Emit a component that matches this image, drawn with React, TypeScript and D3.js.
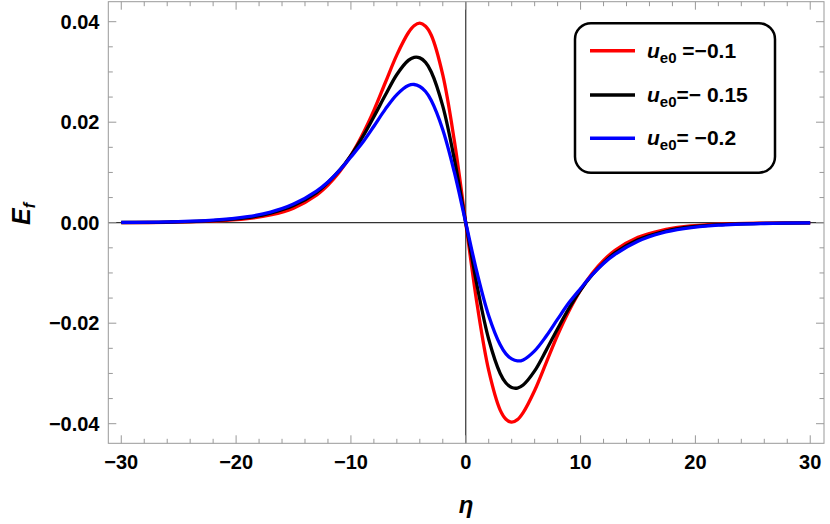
import React from "react";
import * as d3 from "d3";

const eta = [-30,-26,-22,-19,-17,-15,-13,-12,-11,-10,-9,-8,-7,-6,-5,-4.5,-4,-3.5,-3,-2,-1,0,1,2,3,3.5,4,4.5,5,6,7,8,9,10,11,12,13,15,17,19,22,26,30];

const redVals = [0.00002,0.00008,0.0003,0.0008,0.00155,0.0029,0.0055,0.0075,0.0101,0.0134,0.0175,0.02235,0.0279,0.0334,0.0378,0.0392,0.0397,0.0391,0.0373,0.0294,0.0164,0,
  -0.0164,-0.0294,-0.0373,-0.0391,-0.0397,-0.0392,-0.0378,-0.0334,-0.0279,-0.02235,-0.0175,-0.0134,-0.0101,-0.0075,-0.0055,-0.0029,-0.00155,-0.0008,-0.0003,-0.00008,-0.00002];
const blackVals = [0.00004,0.00012,0.0004,0.001,0.0019,0.0034,0.006,0.008,0.0104,0.0134,0.017,0.0211,0.0254,0.0295,0.0323,0.0329,0.0328,0.0319,0.03,0.0232,0.0127,0,
  -0.0127,-0.0232,-0.03,-0.0319,-0.0328,-0.0329,-0.0323,-0.0295,-0.0254,-0.0211,-0.017,-0.0134,-0.0104,-0.008,-0.006,-0.0034,-0.0019,-0.001,-0.0004,-0.00012,-0.00004];
const blueVals = [0.00005,0.00016,0.0005,0.0012,0.0021,0.0037,0.0063,0.0081,0.0104,0.0131,0.0159,0.0192,0.0226,0.0255,0.0273,0.0275,0.0271,0.0261,0.0243,0.0185,0.0101,0,
  -0.0101,-0.0185,-0.0243,-0.0261,-0.0271,-0.0275,-0.0273,-0.0255,-0.0226,-0.0192,-0.0159,-0.0131,-0.0104,-0.0081,-0.0063,-0.0037,-0.0021,-0.0012,-0.0005,-0.00016,-0.00005];

const seriesColors = ["#ff0000", "#000000", "#0000ff"];
const seriesValues = [redVals, blackVals, blueVals];
const legendValues = ["=\u22120.1", "=\u2212 0.15", "= \u22120.2"];
const legendSpacer = [" ", "", ""];

const xMajor = [-30, -20, -10, 0, 10, 20, 30];
const yMajor = [0.04, 0.02, 0, -0.02, -0.04];
const yMajorLabels = ["0.04", "0.02", "0.00", "\u22120.02", "\u22120.04"];

const W = 830, H = 524;
const L = 108.3, R = 824, T = 1.7, B = 443.3;

export default function App() {
  const x = d3.scaleLinear().domain([-31.13, 31.2]).range([L, R]);
  const y = d3.scaleLinear().domain([-0.0439, 0.04398]).range([B, T]);
  const xMinor = d3.range(-30, 31, 2).filter((v) => v % 10 !== 0);
  const yMinor = d3.range(-0.04, 0.0401, 0.005).filter((v) => Math.abs(Math.round(v * 1000) % 20) !== 0);
  const line = d3
    .line<number>()
    .x((_, i) => x(eta[i]))
    .y((d) => y(d))
    .curve(d3.curveCatmullRom.alpha(0.5));
  const frameColor = "#999";
  const font = "'Liberation Sans', Arial, sans-serif";
  const legendY = [50.7, 95, 138.3];
  return (
    <svg width={W} height={H} style={{ position: "absolute", left: 0, top: 0 }} fontFamily={font}>
      <rect x={0} y={0} width={W} height={H} fill="white" />
      <line x1={L} x2={R} y1={y(0)} y2={y(0)} stroke="#333" strokeWidth={1.2} />
      <line x1={x(0)} x2={x(0)} y1={T} y2={B} stroke="#333" strokeWidth={1.2} />
      {seriesValues.map((vals, i) => (
        <path key={i} d={line(vals) || ""} fill="none" stroke={seriesColors[i]} strokeWidth={3.3} strokeLinejoin="round" />
      ))}
      <rect x={L} y={T} width={R - L} height={B - T} fill="none" stroke={frameColor} strokeWidth={1} />
      {xMajor.map((v) => (
        <g key={"xm" + v}>
          <line x1={x(v)} x2={x(v)} y1={B} y2={B - 8} stroke={frameColor} />
          <line x1={x(v)} x2={x(v)} y1={T} y2={T + 8} stroke={frameColor} />
          <text x={x(v)} y={468.5} textAnchor="middle" fontSize={20} fontWeight="bold">
            {v < 0 ? "\u2212" + Math.abs(v) : String(v)}
          </text>
        </g>
      ))}
      {xMinor.map((v) => (
        <g key={"xn" + v}>
          <line x1={x(v)} x2={x(v)} y1={B} y2={B - 4.5} stroke={frameColor} />
          <line x1={x(v)} x2={x(v)} y1={T} y2={T + 4.5} stroke={frameColor} />
        </g>
      ))}
      {yMajor.map((v, i) => (
        <g key={"ym" + i}>
          <line x1={L} x2={L + 8} y1={y(v)} y2={y(v)} stroke={frameColor} />
          <line x1={R} x2={R - 8} y1={y(v)} y2={y(v)} stroke={frameColor} />
          <text x={99.5} y={y(v) + 7} textAnchor="end" fontSize={20} fontWeight="bold">
            {yMajorLabels[i]}
          </text>
        </g>
      ))}
      {yMinor.map((v, i) => (
        <g key={"yn" + i}>
          <line x1={L} x2={L + 4.5} y1={y(v)} y2={y(v)} stroke={frameColor} />
          <line x1={R} x2={R - 4.5} y1={y(v)} y2={y(v)} stroke={frameColor} />
        </g>
      ))}
      <text x={466} y={513} textAnchor="middle" fontSize={24} fontWeight="bold" fontStyle="italic">
        η
      </text>
      <text transform="translate(30,214) rotate(-90)" textAnchor="middle" fontSize={25} fontWeight="bold" fontStyle="italic">
        E<tspan fontSize={16} dy={5}>f</tspan>
      </text>
      <rect x={575} y={23.3} width={200} height={149.4} rx={16} ry={16} fill="white" stroke="black" strokeWidth={2.5} />
      {seriesColors.map((c, i) => (
        <g key={"lg" + i}>
          <line x1={590} x2={635} y1={legendY[i]} y2={legendY[i]} stroke={c} strokeWidth={3.5} />
          <text x={647} y={legendY[i] + 7} fontSize={21} fontWeight="bold">
            <tspan fontStyle="italic">u</tspan>
            <tspan fontSize={15} dy={5}>e0</tspan>
            <tspan dy={-5}>{legendSpacer[i] + legendValues[i]}</tspan>
          </text>
        </g>
      ))}
    </svg>
  );
}
